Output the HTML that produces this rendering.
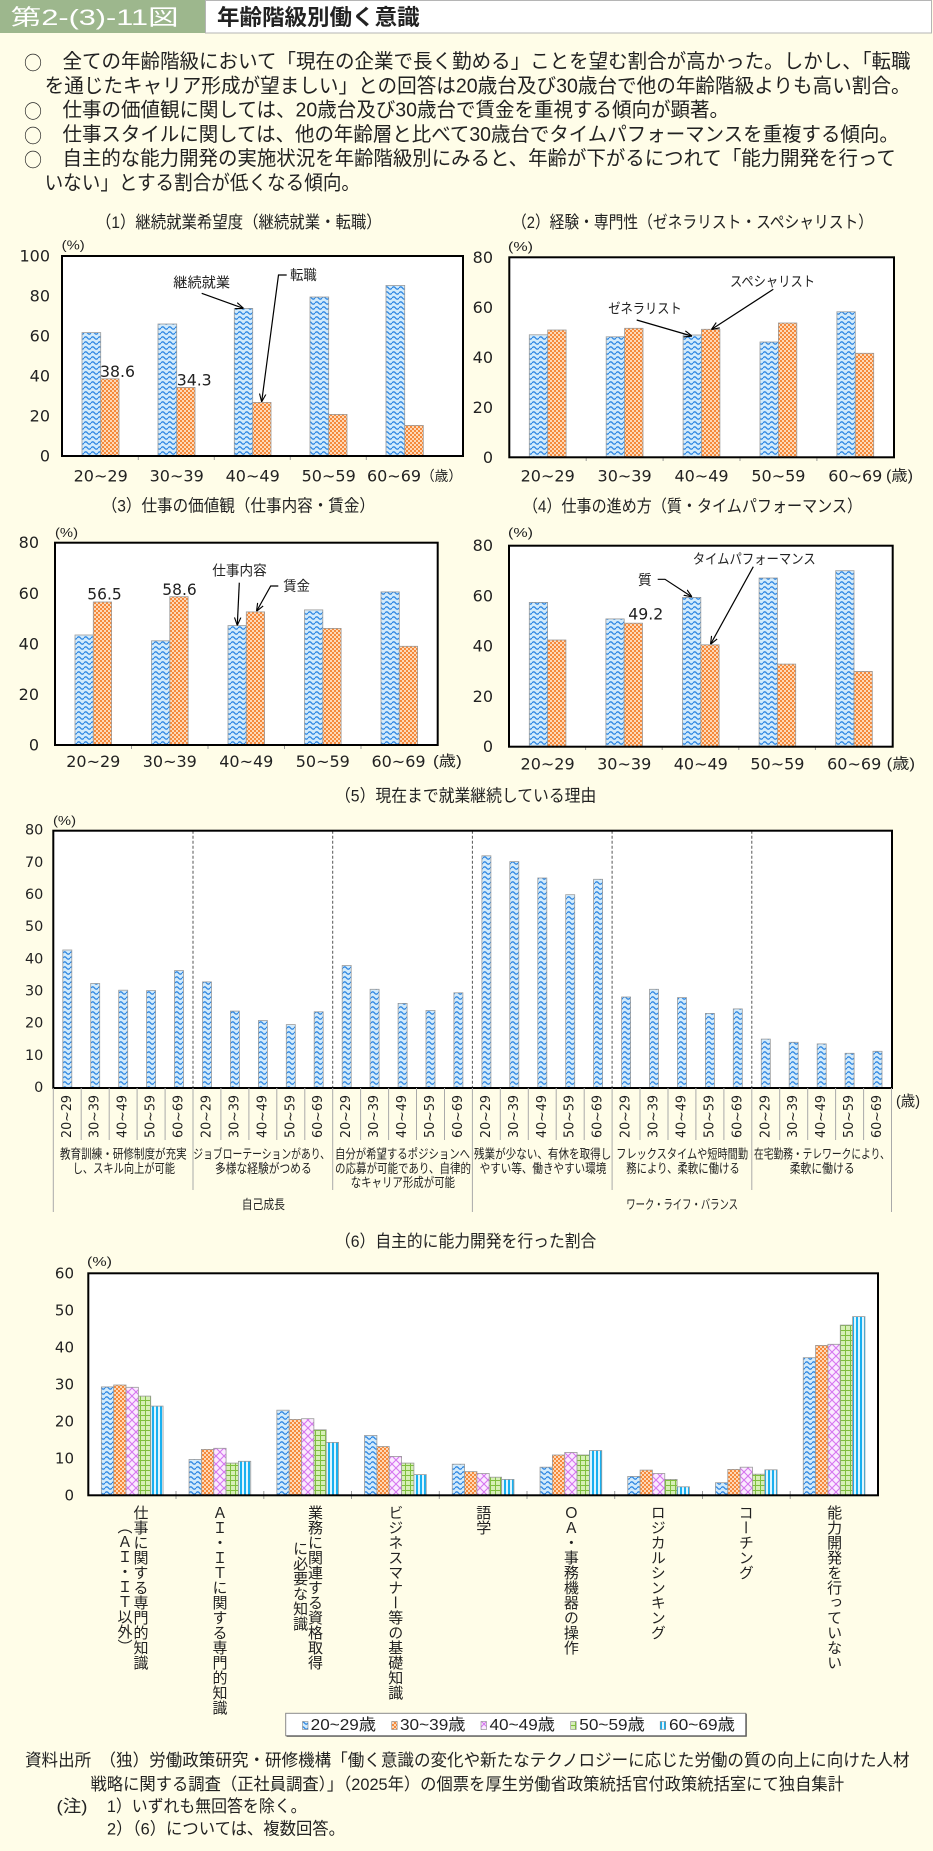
<!DOCTYPE html>
<html><head><meta charset="utf-8">
<style>
html,body{margin:0;padding:0;background:#fffde8;}
#w{position:relative;width:933px;height:1851px;overflow:hidden;background:#fffde8;}
svg{position:absolute;left:0;top:0;}
.j{font-family:"Liberation Sans","Noto Sans CJK JP",sans-serif;fill:#222;}
.c{font-family:"Noto Sans CJK JP",sans-serif;fill:#222;}
.n{font-family:"DejaVu Sans","Liberation Sans",sans-serif;fill:#222;}
.b{stroke:#9a9a9a;stroke-width:0.8;}
.v{position:absolute;writing-mode:vertical-rl;font-family:"Noto Sans CJK JP",sans-serif;font-size:15px;line-height:15px;color:#222;white-space:nowrap;}
</style></head><body><div id="w">
<svg width="933" height="1851" viewBox="0 0 933 1851" xmlns="http://www.w3.org/2000/svg">
<defs>
<pattern id="pb" width="7" height="5" patternUnits="userSpaceOnUse"><rect width="7" height="5" fill="#d2ebfc"/><path d="M0 3 Q1.75 0.6 3.5 3 T7 3" fill="none" stroke="#2d86e2" stroke-width="1.3"/></pattern>
<pattern id="po" width="4" height="4" patternUnits="userSpaceOnUse"><rect width="4" height="4" fill="#fdd9b8"/><rect width="2" height="2" fill="#f5893b"/><rect x="2" y="2" width="2" height="2" fill="#f5893b"/></pattern>
<pattern id="pp" width="8" height="8" patternUnits="userSpaceOnUse"><rect width="8" height="8" fill="#fbeaff"/><path d="M0 0L8 8M8 0L0 8" stroke="#d575ef" stroke-width="1.1"/></pattern>
<pattern id="pg" width="5" height="5" patternUnits="userSpaceOnUse"><rect width="5" height="5" fill="#d6efb6"/><path d="M0 .5H5M.5 0V5" stroke="#7fbf3e" stroke-width="1"/></pattern>
<pattern id="pc" width="4" height="4" patternUnits="userSpaceOnUse"><rect width="4" height="4" fill="#dff6ff"/><rect width="2" height="4" fill="#19b0f0"/></pattern>
<marker id="ar" viewBox="0 0 10 10" refX="9.5" refY="5" markerWidth="8" markerHeight="8" orient="auto" markerUnits="userSpaceOnUse"><path d="M0 1L10 5L0 9" fill="none" stroke="#000" stroke-width="1.4"/></marker>
</defs>

<!-- header -->
<rect x="0" y="0" width="205" height="33" fill="#9db78d"/>
<rect x="205.5" y="0.5" width="726" height="32.5" fill="#fff" stroke="#b5b5b5"/>
<text x="10.7" y="17.5" dominant-baseline="central" class="j" style="fill:#fff" font-size="22" textLength="168" lengthAdjust="spacingAndGlyphs">第2-(3)-11図</text>
<text x="217" y="17.5" dominant-baseline="central" class="j" font-size="22" font-weight="bold" textLength="202.6" lengthAdjust="spacingAndGlyphs">年齢階級別働く意識</text>

<!-- bullets -->
<g font-size="20">
<text x="24" y="62" dominant-baseline="central" class="c" font-size="19" textLength="18" lengthAdjust="spacingAndGlyphs">○</text>
<text x="62.5" y="62" dominant-baseline="central" class="j" textLength="848" lengthAdjust="spacingAndGlyphs">全ての年齢階級において「現在の企業で長く勤める」ことを望む割合が高かった。しかし、「転職</text>
<text x="44.6" y="86.3" dominant-baseline="central" class="j" textLength="866" lengthAdjust="spacingAndGlyphs">を通じたキャリア形成が望ましい」との回答は20歳台及び30歳台で他の年齢階級よりも高い割合。</text>
<text x="24" y="110.6" dominant-baseline="central" class="c" font-size="19" textLength="18" lengthAdjust="spacingAndGlyphs">○</text>
<text x="62.5" y="110.6" dominant-baseline="central" class="j" textLength="666.5" lengthAdjust="spacingAndGlyphs">仕事の価値観に関しては、20歳台及び30歳台で賃金を重視する傾向が顕著。</text>
<text x="24" y="134.9" dominant-baseline="central" class="c" font-size="19" textLength="18" lengthAdjust="spacingAndGlyphs">○</text>
<text x="62.5" y="134.9" dominant-baseline="central" class="j" textLength="836.3" lengthAdjust="spacingAndGlyphs">仕事スタイルに関しては、他の年齢層と比べて30歳台でタイムパフォーマンスを重複する傾向。</text>
<text x="24" y="159.2" dominant-baseline="central" class="c" font-size="19" textLength="18" lengthAdjust="spacingAndGlyphs">○</text>
<text x="62.5" y="159.2" dominant-baseline="central" class="j" textLength="833.3" lengthAdjust="spacingAndGlyphs">自主的な能力開発の実施状況を年齢階級別にみると、年齢が下がるにつれて「能力開発を行って</text>
<text x="44.6" y="183.5" dominant-baseline="central" class="j" textLength="315.4" lengthAdjust="spacingAndGlyphs">いない」とする割合が低くなる傾向。</text>
</g>

<!-- ============ chart 1 ============ -->
<text x="96" y="222.7" dominant-baseline="central" class="j" font-size="17" textLength="285.7" lengthAdjust="spacingAndGlyphs">（1）継続就業希望度（継続就業・転職）</text>
<text x="61.7" y="245" dominant-baseline="central" class="j" font-size="13" textLength="23" lengthAdjust="spacingAndGlyphs">(%)</text>
<rect x="62" y="256" width="401" height="200" fill="#fff"/>
<g class="b">
<rect x="82" y="332.6" width="18.7" height="123.4" fill="url(#pb)"/>
<rect x="100.7" y="378.8" width="18.3" height="77.2" fill="url(#po)"/>
<rect x="158" y="324" width="18.7" height="132" fill="url(#pb)"/>
<rect x="176.7" y="387.4" width="18.3" height="68.6" fill="url(#po)"/>
<rect x="234.3" y="308.4" width="18.4" height="147.6" fill="url(#pb)"/>
<rect x="252.7" y="402.4" width="18.3" height="53.6" fill="url(#po)"/>
<rect x="310" y="297" width="18.7" height="159" fill="url(#pb)"/>
<rect x="328.7" y="414.4" width="18.3" height="41.6" fill="url(#po)"/>
<rect x="386" y="285.4" width="18.7" height="170.6" fill="url(#pb)"/>
<rect x="404.7" y="425.4" width="18.6" height="30.6" fill="url(#po)"/>
</g>
<g stroke="#999" stroke-width="1"><path d="M138.3 456V460M214.3 456V460M290.3 456V460M366.3 456V460"/></g>
<rect x="62" y="256" width="401" height="200" fill="none" stroke="#000" stroke-width="2"/>
<g class="n" font-size="16" text-anchor="end" dominant-baseline="central">
<text x="50" y="256">100</text><text x="50" y="296">80</text><text x="50" y="336">60</text><text x="50" y="376">40</text><text x="50" y="416">20</text><text x="50" y="456">0</text>
</g>
<g class="n" font-size="16" text-anchor="middle" dominant-baseline="central">
<text x="100.7" y="476">20~29</text><text x="176.7" y="476">30~39</text><text x="252.7" y="476">40~49</text><text x="328.7" y="476">50~59</text><text x="394" y="476">60~69</text>
</g>
<text x="421" y="476" dominant-baseline="central" class="c" font-size="14" textLength="41" lengthAdjust="spacingAndGlyphs">（歳）</text>
<text x="100" y="371.7" dominant-baseline="central" class="n" font-size="16" textLength="35" lengthAdjust="spacingAndGlyphs">38.6</text>
<text x="176.7" y="380" dominant-baseline="central" class="n" font-size="16" textLength="35" lengthAdjust="spacingAndGlyphs">34.3</text>
<text x="173.3" y="282.7" dominant-baseline="central" class="j" font-size="14" textLength="56.7" lengthAdjust="spacingAndGlyphs">継続就業</text>
<path d="M201.7 293.3L243.3 308.3" stroke="#000" stroke-width="1.2" fill="none" marker-end="url(#ar)"/>
<text x="290" y="275" dominant-baseline="central" class="j" font-size="14" textLength="26.7" lengthAdjust="spacingAndGlyphs">転職</text>
<path d="M286.7 275H278.5L261.7 401.5" stroke="#000" stroke-width="1.2" fill="none" marker-end="url(#ar)"/>

<!-- ============ chart 2 ============ -->
<text x="512" y="222.7" dominant-baseline="central" class="j" font-size="17" textLength="361" lengthAdjust="spacingAndGlyphs">（2）経験・専門性（ゼネラリスト・スペシャリスト）</text>
<text x="508" y="246.7" dominant-baseline="central" class="j" font-size="13" textLength="25" lengthAdjust="spacingAndGlyphs">(%)</text>
<rect x="509.3" y="257.3" width="384.7" height="200" fill="#fff"/>
<g class="b">
<rect x="529.3" y="334.8" width="18.4" height="122.5" fill="url(#pb)"/>
<rect x="547.7" y="330" width="18.4" height="127.3" fill="url(#po)"/>
<rect x="606.2" y="336.8" width="18.4" height="120.5" fill="url(#pb)"/>
<rect x="624.6" y="328.3" width="18.4" height="129" fill="url(#po)"/>
<rect x="683.1" y="335" width="18.4" height="122.3" fill="url(#pb)"/>
<rect x="701.5" y="329.3" width="18.4" height="128" fill="url(#po)"/>
<rect x="760" y="342" width="18.4" height="115.3" fill="url(#pb)"/>
<rect x="778.4" y="323" width="18.4" height="134.3" fill="url(#po)"/>
<rect x="836.9" y="311.8" width="18.4" height="145.5" fill="url(#pb)"/>
<rect x="855.3" y="353.3" width="18.4" height="104" fill="url(#po)"/>
</g>
<g stroke="#999" stroke-width="1"><path d="M586.2 457.3V461M663.1 457.3V461M740 457.3V461M816.9 457.3V461"/></g>
<rect x="509.3" y="257.3" width="384.7" height="200" fill="none" stroke="#000" stroke-width="2"/>
<g class="n" font-size="16" text-anchor="end" dominant-baseline="central">
<text x="493" y="257.3">80</text><text x="493" y="307.3">60</text><text x="493" y="357.3">40</text><text x="493" y="407.3">20</text><text x="493" y="457.3">0</text>
</g>
<g class="n" font-size="16" text-anchor="middle" dominant-baseline="central">
<text x="547.7" y="476">20~29</text><text x="624.6" y="476">30~39</text><text x="701.5" y="476">40~49</text><text x="778.4" y="476">50~59</text><text x="855.3" y="476">60~69</text>
</g>
<text x="886" y="476" dominant-baseline="central" class="j" font-size="15" textLength="27" lengthAdjust="spacingAndGlyphs">(歳)</text>
<text x="608.3" y="308.3" dominant-baseline="central" class="j" font-size="14" textLength="73.4" lengthAdjust="spacingAndGlyphs">ゼネラリスト</text>
<path d="M636.7 320L691.7 336" stroke="#000" stroke-width="1.2" fill="none" marker-end="url(#ar)"/>
<text x="730" y="281.7" dominant-baseline="central" class="j" font-size="14" textLength="85" lengthAdjust="spacingAndGlyphs">スペシャリスト</text>
<path d="M773.3 289.3L711.7 329.3" stroke="#000" stroke-width="1.2" fill="none" marker-end="url(#ar)"/>

<!-- ============ chart 3 ============ -->
<text x="101.7" y="506" dominant-baseline="central" class="j" font-size="17" textLength="273.3" lengthAdjust="spacingAndGlyphs">（3）仕事の価値観（仕事内容・賃金）</text>
<text x="55" y="532.7" dominant-baseline="central" class="j" font-size="13" textLength="23" lengthAdjust="spacingAndGlyphs">(%)</text>
<rect x="55" y="542.7" width="382.7" height="202.3" fill="#fff"/>
<g class="b">
<rect x="75" y="635" width="18.3" height="110" fill="url(#pb)"/>
<rect x="93.3" y="602" width="18.3" height="143" fill="url(#po)"/>
<rect x="151.5" y="640.8" width="18.3" height="104.2" fill="url(#pb)"/>
<rect x="169.8" y="596.7" width="18.3" height="148.3" fill="url(#po)"/>
<rect x="228" y="625.6" width="18.3" height="119.4" fill="url(#pb)"/>
<rect x="246.3" y="611.9" width="18.3" height="133.1" fill="url(#po)"/>
<rect x="304.5" y="609.9" width="18.3" height="135.1" fill="url(#pb)"/>
<rect x="322.8" y="628.4" width="18.3" height="116.6" fill="url(#po)"/>
<rect x="381" y="591.9" width="18.3" height="153.1" fill="url(#pb)"/>
<rect x="399.3" y="646.3" width="18.3" height="98.7" fill="url(#po)"/>
</g>
<g stroke="#999" stroke-width="1"><path d="M131.5 745V749M208 745V749M284.5 745V749M361 745V749"/></g>
<rect x="55" y="542.7" width="382.7" height="202.3" fill="none" stroke="#000" stroke-width="2"/>
<g class="n" font-size="16" text-anchor="end" dominant-baseline="central">
<text x="39" y="542.7">80</text><text x="39" y="593.3">60</text><text x="39" y="643.9">40</text><text x="39" y="694.5">20</text><text x="39" y="745">0</text>
</g>
<g class="n" font-size="16" text-anchor="middle" dominant-baseline="central">
<text x="93.3" y="761.7">20~29</text><text x="169.8" y="761.7">30~39</text><text x="246.3" y="761.7">40~49</text><text x="322.8" y="761.7">50~59</text><text x="398.5" y="761.7">60~69</text>
</g>
<text x="433" y="761.7" dominant-baseline="central" class="j" font-size="15" textLength="28.7" lengthAdjust="spacingAndGlyphs">(歳)</text>
<text x="87.3" y="594" dominant-baseline="central" class="n" font-size="16" textLength="34.4" lengthAdjust="spacingAndGlyphs">56.5</text>
<text x="162.3" y="589.3" dominant-baseline="central" class="n" font-size="16" textLength="34.4" lengthAdjust="spacingAndGlyphs">58.6</text>
<text x="212.3" y="570.7" dominant-baseline="central" class="j" font-size="14" textLength="54.4" lengthAdjust="spacingAndGlyphs">仕事内容</text>
<path d="M239.3 582.7L237.3 625" stroke="#000" stroke-width="1.2" fill="none" marker-end="url(#ar)"/>
<text x="283.3" y="586" dominant-baseline="central" class="j" font-size="14" textLength="26.7" lengthAdjust="spacingAndGlyphs">賃金</text>
<path d="M278.3 586H270.7L256.7 611" stroke="#000" stroke-width="1.2" fill="none" marker-end="url(#ar)"/>

<!-- ============ chart 4 ============ -->
<text x="523" y="506.7" dominant-baseline="central" class="j" font-size="17" textLength="339" lengthAdjust="spacingAndGlyphs">（4）仕事の進め方（質・タイムパフォーマンス）</text>
<text x="508" y="532.7" dominant-baseline="central" class="j" font-size="13" textLength="25" lengthAdjust="spacingAndGlyphs">(%)</text>
<rect x="509" y="545.7" width="383.7" height="201" fill="#fff"/>
<g class="b">
<rect x="529.3" y="602.4" width="18.3" height="144.3" fill="url(#pb)"/>
<rect x="547.6" y="640" width="18.3" height="106.7" fill="url(#po)"/>
<rect x="605.9" y="618.9" width="18.3" height="127.8" fill="url(#pb)"/>
<rect x="624.2" y="623.2" width="18.3" height="123.5" fill="url(#po)"/>
<rect x="682.5" y="597.4" width="18.3" height="149.3" fill="url(#pb)"/>
<rect x="700.8" y="644.8" width="18.3" height="101.9" fill="url(#po)"/>
<rect x="759.1" y="578" width="18.3" height="168.7" fill="url(#pb)"/>
<rect x="777.4" y="664.1" width="18.3" height="82.6" fill="url(#po)"/>
<rect x="835.7" y="570.7" width="18.3" height="176" fill="url(#pb)"/>
<rect x="854" y="671.4" width="18.3" height="75.3" fill="url(#po)"/>
</g>
<g stroke="#999" stroke-width="1"><path d="M585.6 746.7V750M662.2 746.7V750M738.8 746.7V750M815.4 746.7V750"/></g>
<rect x="509" y="545.7" width="383.7" height="201" fill="none" stroke="#000" stroke-width="2"/>
<g class="n" font-size="16" text-anchor="end" dominant-baseline="central">
<text x="493" y="545.7">80</text><text x="493" y="595.9">60</text><text x="493" y="646.1">40</text><text x="493" y="696.3">20</text><text x="493" y="746.7">0</text>
</g>
<g class="n" font-size="16" text-anchor="middle" dominant-baseline="central">
<text x="547.6" y="764">20~29</text><text x="624.2" y="764">30~39</text><text x="700.8" y="764">40~49</text><text x="777.4" y="764">50~59</text><text x="854.2" y="764">60~69</text>
</g>
<text x="886.7" y="764" dominant-baseline="central" class="j" font-size="15" textLength="28.3" lengthAdjust="spacingAndGlyphs">(歳)</text>
<text x="628.3" y="614" dominant-baseline="central" class="n" font-size="16" textLength="35" lengthAdjust="spacingAndGlyphs">49.2</text>
<text x="692.7" y="559" dominant-baseline="central" class="j" font-size="14" textLength="123" lengthAdjust="spacingAndGlyphs">タイムパフォーマンス</text>
<path d="M753.3 566.7L710.7 644" stroke="#000" stroke-width="1.2" fill="none" marker-end="url(#ar)"/>
<text x="638" y="580" dominant-baseline="central" class="j" font-size="14" textLength="13.7" lengthAdjust="spacingAndGlyphs">質</text>
<path d="M657.7 579.3H665L691.7 596.7" stroke="#000" stroke-width="1.2" fill="none" marker-end="url(#ar)"/>

<!-- ============ chart 5 ============ -->
<text x="335" y="796" dominant-baseline="central" class="j" font-size="17" textLength="261.3" lengthAdjust="spacingAndGlyphs">（5）現在まで就業継続している理由</text>
<text x="53" y="820.7" dominant-baseline="central" class="j" font-size="13" textLength="23" lengthAdjust="spacingAndGlyphs">(%)</text>
<rect x="53.3" y="830.7" width="838.7" height="257.3" fill="#fff"/>
<g stroke="#555" stroke-width="1" stroke-dasharray="3 2"><path d="M193 830.7V1088M332.7 830.7V1088M472.4 830.7V1088M612.1 830.7V1088M751.8 830.7V1088"/></g>
<g class="b" fill="url(#pb)">
<rect x="62.8" y="950" width="9" height="138"/><rect x="90.7" y="983.5" width="9" height="104.5"/><rect x="118.7" y="990.2" width="9" height="97.8"/><rect x="146.6" y="990.6" width="9" height="97.4"/><rect x="174.5" y="970.6" width="9" height="117.4"/>
<rect x="202.5" y="981.9" width="9" height="106.1"/><rect x="230.4" y="1011.1" width="9" height="76.9"/><rect x="258.4" y="1020.5" width="9" height="67.5"/><rect x="286.3" y="1024.6" width="9" height="63.4"/><rect x="314.2" y="1011.8" width="9" height="76.2"/>
<rect x="342.2" y="965.5" width="9" height="122.5"/><rect x="370.1" y="989.3" width="9" height="98.7"/><rect x="398.1" y="1003.4" width="9" height="84.6"/><rect x="426" y="1010.5" width="9" height="77.5"/><rect x="453.9" y="992.8" width="9" height="95.2"/>
<rect x="481.9" y="855.8" width="9" height="232.2"/><rect x="509.8" y="861.6" width="9" height="226.4"/><rect x="537.8" y="878" width="9" height="210"/><rect x="565.7" y="894.7" width="9" height="193.3"/><rect x="593.6" y="879.3" width="9" height="208.7"/>
<rect x="621.6" y="997" width="9" height="91"/><rect x="649.5" y="989.3" width="9" height="98.7"/><rect x="677.5" y="997.6" width="9" height="90.4"/><rect x="705.4" y="1013.4" width="9" height="74.6"/><rect x="733.3" y="1008.9" width="9" height="79.1"/>
<rect x="761.3" y="1039.1" width="9" height="48.9"/><rect x="789.2" y="1042.3" width="9" height="45.7"/><rect x="817.2" y="1043.9" width="9" height="44.1"/><rect x="845.1" y="1053.3" width="9" height="34.7"/><rect x="873" y="1051.3" width="9" height="36.7"/>
</g>
<rect x="53.3" y="830.7" width="838.7" height="257.3" fill="none" stroke="#000" stroke-width="2"/>
<g stroke="#aaa" stroke-width="1">
<path d="M81.2 1088V1140M109.2 1088V1140M137.1 1088V1140M165.1 1088V1140M220.9 1088V1140M248.9 1088V1140M276.8 1088V1140M304.8 1088V1140M360.6 1088V1140M388.6 1088V1140M416.5 1088V1140M444.5 1088V1140M500.3 1088V1140M528.3 1088V1140M556.2 1088V1140M584.2 1088V1140M640 1088V1140M668 1088V1140M695.9 1088V1140M723.9 1088V1140M779.7 1088V1140M807.7 1088V1140M835.6 1088V1140M863.6 1088V1140"/>
<path d="M193 1088V1190M332.7 1088V1190M612.1 1088V1190M751.8 1088V1190"/>
<path d="M53.3 1088V1212M472.4 1088V1212M891.5 1088V1212"/>
</g>
<g class="n" font-size="14.4" text-anchor="end" dominant-baseline="central">
<text x="43.3" y="830.7">80</text><text x="43.3" y="862.9">70</text><text x="43.3" y="895">60</text><text x="43.3" y="927.2">50</text><text x="43.3" y="959.4">40</text><text x="43.3" y="991.5">30</text><text x="43.3" y="1023.7">20</text><text x="43.3" y="1055.8">10</text><text x="43.3" y="1088">0</text>
</g>
<g class="n" font-size="13" dominant-baseline="central">
<text transform="translate(67.3,1138) rotate(-90)" textLength="43" lengthAdjust="spacingAndGlyphs">20~29</text>
<text transform="translate(95.2,1138) rotate(-90)" textLength="43" lengthAdjust="spacingAndGlyphs">30~39</text>
<text transform="translate(123.2,1138) rotate(-90)" textLength="43" lengthAdjust="spacingAndGlyphs">40~49</text>
<text transform="translate(151.1,1138) rotate(-90)" textLength="43" lengthAdjust="spacingAndGlyphs">50~59</text>
<text transform="translate(179,1138) rotate(-90)" textLength="43" lengthAdjust="spacingAndGlyphs">60~69</text>
<text transform="translate(207,1138) rotate(-90)" textLength="43" lengthAdjust="spacingAndGlyphs">20~29</text>
<text transform="translate(234.9,1138) rotate(-90)" textLength="43" lengthAdjust="spacingAndGlyphs">30~39</text>
<text transform="translate(262.9,1138) rotate(-90)" textLength="43" lengthAdjust="spacingAndGlyphs">40~49</text>
<text transform="translate(290.8,1138) rotate(-90)" textLength="43" lengthAdjust="spacingAndGlyphs">50~59</text>
<text transform="translate(318.7,1138) rotate(-90)" textLength="43" lengthAdjust="spacingAndGlyphs">60~69</text>
<text transform="translate(346.7,1138) rotate(-90)" textLength="43" lengthAdjust="spacingAndGlyphs">20~29</text>
<text transform="translate(374.6,1138) rotate(-90)" textLength="43" lengthAdjust="spacingAndGlyphs">30~39</text>
<text transform="translate(402.6,1138) rotate(-90)" textLength="43" lengthAdjust="spacingAndGlyphs">40~49</text>
<text transform="translate(430.5,1138) rotate(-90)" textLength="43" lengthAdjust="spacingAndGlyphs">50~59</text>
<text transform="translate(458.4,1138) rotate(-90)" textLength="43" lengthAdjust="spacingAndGlyphs">60~69</text>
<text transform="translate(486.4,1138) rotate(-90)" textLength="43" lengthAdjust="spacingAndGlyphs">20~29</text>
<text transform="translate(514.3,1138) rotate(-90)" textLength="43" lengthAdjust="spacingAndGlyphs">30~39</text>
<text transform="translate(542.3,1138) rotate(-90)" textLength="43" lengthAdjust="spacingAndGlyphs">40~49</text>
<text transform="translate(570.2,1138) rotate(-90)" textLength="43" lengthAdjust="spacingAndGlyphs">50~59</text>
<text transform="translate(598.1,1138) rotate(-90)" textLength="43" lengthAdjust="spacingAndGlyphs">60~69</text>
<text transform="translate(626.1,1138) rotate(-90)" textLength="43" lengthAdjust="spacingAndGlyphs">20~29</text>
<text transform="translate(654,1138) rotate(-90)" textLength="43" lengthAdjust="spacingAndGlyphs">30~39</text>
<text transform="translate(682,1138) rotate(-90)" textLength="43" lengthAdjust="spacingAndGlyphs">40~49</text>
<text transform="translate(709.9,1138) rotate(-90)" textLength="43" lengthAdjust="spacingAndGlyphs">50~59</text>
<text transform="translate(737.8,1138) rotate(-90)" textLength="43" lengthAdjust="spacingAndGlyphs">60~69</text>
<text transform="translate(765.8,1138) rotate(-90)" textLength="43" lengthAdjust="spacingAndGlyphs">20~29</text>
<text transform="translate(793.7,1138) rotate(-90)" textLength="43" lengthAdjust="spacingAndGlyphs">30~39</text>
<text transform="translate(821.7,1138) rotate(-90)" textLength="43" lengthAdjust="spacingAndGlyphs">40~49</text>
<text transform="translate(849.6,1138) rotate(-90)" textLength="43" lengthAdjust="spacingAndGlyphs">50~59</text>
<text transform="translate(877.5,1138) rotate(-90)" textLength="43" lengthAdjust="spacingAndGlyphs">60~69</text>
</g>
<text x="896" y="1101.7" dominant-baseline="central" class="j" font-size="15" textLength="24" lengthAdjust="spacingAndGlyphs">(歳)</text>
<g class="j" font-size="13" dominant-baseline="central">
<text x="60" y="1154" textLength="126.7" lengthAdjust="spacingAndGlyphs">教育訓練・研修制度が充実</text>
<text x="72.7" y="1168.3" textLength="102.3" lengthAdjust="spacingAndGlyphs">し、スキル向上が可能</text>
<text x="193.3" y="1154" textLength="136.7" lengthAdjust="spacingAndGlyphs">ジョブローテーションがあり、</text>
<text x="215" y="1168.3" textLength="96.7" lengthAdjust="spacingAndGlyphs">多様な経験がつめる</text>
<text x="335" y="1154" textLength="135" lengthAdjust="spacingAndGlyphs">自分が希望するポジションへ</text>
<text x="335" y="1168.3" textLength="136" lengthAdjust="spacingAndGlyphs">の応募が可能であり、自律的</text>
<text x="350.7" y="1182.7" textLength="104.3" lengthAdjust="spacingAndGlyphs">なキャリア形成が可能</text>
<text x="474" y="1154" textLength="137.3" lengthAdjust="spacingAndGlyphs">残業が少ない、有休を取得し</text>
<text x="479.7" y="1168.3" textLength="126.6" lengthAdjust="spacingAndGlyphs">やすい等、働きやすい環境</text>
<text x="616.3" y="1154" textLength="131.7" lengthAdjust="spacingAndGlyphs">フレックスタイムや短時間勤</text>
<text x="626.3" y="1168.3" textLength="113.4" lengthAdjust="spacingAndGlyphs">務により、柔軟に働ける</text>
<text x="754" y="1154" textLength="135.7" lengthAdjust="spacingAndGlyphs">在宅勤務・テレワークにより、</text>
<text x="789.7" y="1168.3" textLength="65" lengthAdjust="spacingAndGlyphs">柔軟に働ける</text>
<text x="241.7" y="1204.3" textLength="43.3" lengthAdjust="spacingAndGlyphs">自己成長</text>
<text x="626.3" y="1204.3" textLength="111.7" lengthAdjust="spacingAndGlyphs">ワーク・ライフ・バランス</text>
</g>

<!-- ============ chart 6 ============ -->
<text x="335" y="1241.7" dominant-baseline="central" class="j" font-size="17" textLength="261.3" lengthAdjust="spacingAndGlyphs">（6）自主的に能力開発を行った割合</text>
<text x="87" y="1261.7" dominant-baseline="central" class="j" font-size="13" textLength="25" lengthAdjust="spacingAndGlyphs">(%)</text>
<rect x="88.3" y="1273.3" width="789.7" height="222" fill="#fff"/>
<g class="b">
<rect x="101.35" y="1386.9" width="12.34" height="108.4" fill="url(#pb)"/><rect x="113.69" y="1385" width="12.34" height="110.3" fill="url(#po)"/><rect x="126.03" y="1387.3" width="12.34" height="108" fill="url(#pp)"/><rect x="138.37" y="1396.1" width="12.34" height="99.2" fill="url(#pg)"/><rect x="150.71" y="1406.1" width="12.34" height="89.2" fill="url(#pc)"/>
<rect x="189.05" y="1459.4" width="12.34" height="35.9" fill="url(#pb)"/><rect x="201.39" y="1449.4" width="12.34" height="45.9" fill="url(#po)"/><rect x="213.73" y="1448.3" width="12.34" height="47" fill="url(#pp)"/><rect x="226.07" y="1463.1" width="12.34" height="32.2" fill="url(#pg)"/><rect x="238.41" y="1461.3" width="12.34" height="34" fill="url(#pc)"/>
<rect x="276.85" y="1410.2" width="12.34" height="85.1" fill="url(#pb)"/><rect x="289.19" y="1419.4" width="12.34" height="75.9" fill="url(#po)"/><rect x="301.53" y="1418.7" width="12.34" height="76.6" fill="url(#pp)"/><rect x="313.87" y="1429.8" width="12.34" height="65.5" fill="url(#pg)"/><rect x="326.21" y="1442.4" width="12.34" height="52.9" fill="url(#pc)"/>
<rect x="364.55" y="1435.4" width="12.34" height="59.9" fill="url(#pb)"/><rect x="376.89" y="1446.5" width="12.34" height="48.8" fill="url(#po)"/><rect x="389.23" y="1456.4" width="12.34" height="38.9" fill="url(#pp)"/><rect x="401.57" y="1463.1" width="12.34" height="32.2" fill="url(#pg)"/><rect x="413.91" y="1474.6" width="12.34" height="20.7" fill="url(#pc)"/>
<rect x="452.25" y="1464.2" width="12.34" height="31.1" fill="url(#pb)"/><rect x="464.59" y="1471.6" width="12.34" height="23.7" fill="url(#po)"/><rect x="476.93" y="1473.5" width="12.34" height="21.8" fill="url(#pp)"/><rect x="489.27" y="1477.2" width="12.34" height="18.1" fill="url(#pg)"/><rect x="501.61" y="1479.4" width="12.34" height="15.9" fill="url(#pc)"/>
<rect x="540.05" y="1467.2" width="12.34" height="28.1" fill="url(#pb)"/><rect x="552.39" y="1455" width="12.34" height="40.3" fill="url(#po)"/><rect x="564.73" y="1452.4" width="12.34" height="42.9" fill="url(#pp)"/><rect x="577.07" y="1455" width="12.34" height="40.3" fill="url(#pg)"/><rect x="589.41" y="1450.5" width="12.34" height="44.8" fill="url(#pc)"/>
<rect x="627.75" y="1476.4" width="12.34" height="18.9" fill="url(#pb)"/><rect x="640.09" y="1470.1" width="12.34" height="25.2" fill="url(#po)"/><rect x="652.43" y="1473.5" width="12.34" height="21.8" fill="url(#pp)"/><rect x="664.77" y="1479.4" width="12.34" height="15.9" fill="url(#pg)"/><rect x="677.11" y="1486.8" width="12.34" height="8.5" fill="url(#pc)"/>
<rect x="715.45" y="1482.7" width="12.34" height="12.6" fill="url(#pb)"/><rect x="727.79" y="1469.4" width="12.34" height="25.9" fill="url(#po)"/><rect x="740.13" y="1467.2" width="12.34" height="28.1" fill="url(#pp)"/><rect x="752.47" y="1474.2" width="12.34" height="21.1" fill="url(#pg)"/><rect x="764.81" y="1469.8" width="12.34" height="25.5" fill="url(#pc)"/>
<rect x="803.25" y="1357.7" width="12.34" height="137.6" fill="url(#pb)"/><rect x="815.59" y="1345.4" width="12.34" height="149.9" fill="url(#po)"/><rect x="827.93" y="1344.3" width="12.34" height="151" fill="url(#pp)"/><rect x="840.27" y="1325.1" width="12.34" height="170.2" fill="url(#pg)"/><rect x="852.61" y="1316.6" width="12.34" height="178.7" fill="url(#pc)"/>
</g>
<g stroke="#999" stroke-width="1"><path d="M176 1491V1499M263.8 1491V1499M351.5 1491V1499M439.3 1491V1499M527 1491V1499M614.7 1491V1499M702.5 1491V1499M790.2 1491V1499"/></g>
<rect x="88.3" y="1273.3" width="789.7" height="222" fill="none" stroke="#000" stroke-width="2"/>
<g class="n" font-size="15" text-anchor="end" dominant-baseline="central">
<text x="74" y="1273.3">60</text><text x="74" y="1310.3">50</text><text x="74" y="1347.3">40</text><text x="74" y="1384.3">30</text><text x="74" y="1421.3">20</text><text x="74" y="1458.3">10</text><text x="74" y="1495.3">0</text>
</g>

<!-- legend -->
<rect x="285.7" y="1713.3" width="460" height="22.4" fill="#fff" stroke="#8a8a8a" stroke-width="1"/>
<path d="M286.5 1736.2H746.2V1713.8" fill="none" stroke="#555" stroke-width="1.2"/>
<g stroke="#888" stroke-width="0.6">
<rect x="302.5" y="1721.5" width="5.5" height="8" fill="url(#pb)"/>
<rect x="391.7" y="1721.5" width="5.5" height="8" fill="url(#po)"/>
<rect x="481" y="1721.5" width="5.5" height="8" fill="url(#pp)"/>
<rect x="570.7" y="1721.5" width="5.5" height="8" fill="url(#pg)"/>
<rect x="660.2" y="1721.5" width="5.5" height="8" fill="url(#pc)"/>
</g>
<g class="j" font-size="16" dominant-baseline="central">
<text x="310.7" y="1725.5" textLength="65.3" lengthAdjust="spacingAndGlyphs">20~29歳</text>
<text x="400" y="1725.5" textLength="65.5" lengthAdjust="spacingAndGlyphs">30~39歳</text>
<text x="489.5" y="1725.5" textLength="65.5" lengthAdjust="spacingAndGlyphs">40~49歳</text>
<text x="579.3" y="1725.5" textLength="65.5" lengthAdjust="spacingAndGlyphs">50~59歳</text>
<text x="669" y="1725.5" textLength="66" lengthAdjust="spacingAndGlyphs">60~69歳</text>
</g>

<!-- footer -->
<g class="j" font-size="17" dominant-baseline="central">
<text x="25" y="1760.5" textLength="884.5" lengthAdjust="spacingAndGlyphs">資料出所　（独）労働政策研究・研修機構「働く意識の変化や新たなテクノロジーに応じた労働の質の向上に向けた人材</text>
<text x="90.5" y="1784.5" textLength="753.5" lengthAdjust="spacingAndGlyphs">戦略に関する調査（正社員調査）」（2025年）の個票を厚生労働省政策統括官付政策統括室にて独自集計</text>
<text x="56.5" y="1806.5" textLength="31" lengthAdjust="spacingAndGlyphs">(注)</text>
<text x="107" y="1806.5" textLength="199.5" lengthAdjust="spacingAndGlyphs">1）いずれも無回答を除く。</text>
<text x="107" y="1829" textLength="238" lengthAdjust="spacingAndGlyphs">2）（6）については、複数回答。</text>
</g>
</svg>

<!-- chart 6 vertical category labels -->
<div class="v" style="left:133.5px;top:1505px;">仕事に関する専門的知識</div>
<div class="v" style="left:117.5px;top:1519px;">（ＡＩ・ＩＴ以外）</div>
<div class="v" style="left:212.5px;top:1505px;">ＡＩ・ＩＴに関する専門的知識</div>
<div class="v" style="left:308px;top:1505px;">業務に関連する資格取得</div>
<div class="v" style="left:293.1px;top:1540.8px;">に必要な知識</div>
<div class="v" style="left:388.3px;top:1505px;">ビジネスマナー等の基礎知識</div>
<div class="v" style="left:476.2px;top:1505px;">語学</div>
<div class="v" style="left:563.9px;top:1505px;">ＯＡ・事務機器の操作</div>
<div class="v" style="left:650.8px;top:1505px;">ロジカルシンキング</div>
<div class="v" style="left:738.8px;top:1505px;">コーチング</div>
<div class="v" style="left:827.1px;top:1505px;">能力開発を行っていない</div>
</div></body></html>
